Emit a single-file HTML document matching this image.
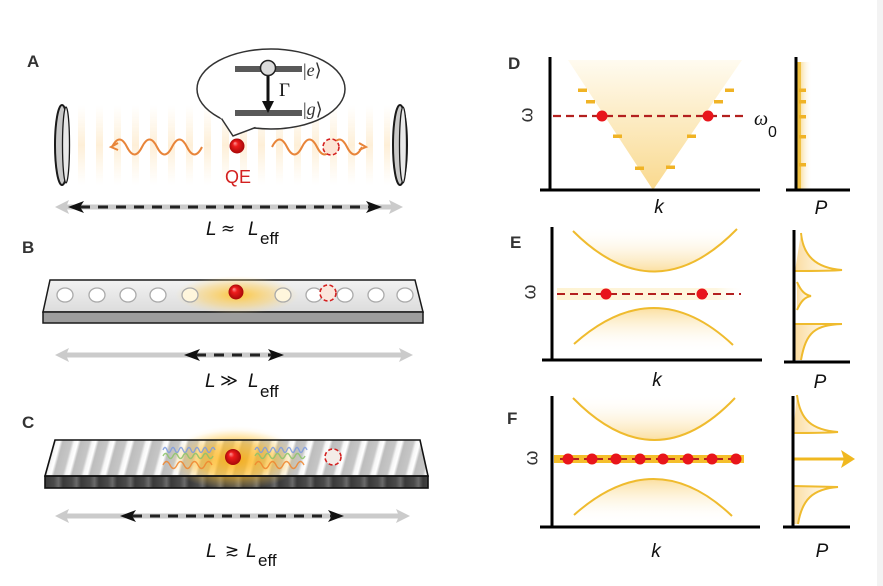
<!DOCTYPE html>
<html><head><meta charset="utf-8"><style>
html,body{margin:0;padding:0;background:#fff;}
svg{display:block;}
.lbl{font-family:"Liberation Sans",sans-serif;font-weight:bold;font-size:17px;fill:#333;}
.it{font-family:"Liberation Sans",sans-serif;font-style:italic;font-size:19px;fill:#111;}
.rg{font-family:"Liberation Sans","DejaVu Sans",sans-serif;font-size:17px;fill:#111;}
.sym{font-family:"DejaVu Sans",sans-serif;font-size:17px;fill:#111;}
.om{font-family:"Liberation Sans","DejaVu Sans",sans-serif;font-size:19px;fill:#333;}
</style></head><body>
<svg width="883" height="586" viewBox="0 0 883 586" xmlns="http://www.w3.org/2000/svg">
<defs>
  <radialGradient id="ball" cx="0.5" cy="0.5" r="0.5" fx="0.35" fy="0.3">
    <stop offset="0" stop-color="#ff9a9a"/><stop offset="0.35" stop-color="#ee1c1c"/><stop offset="1" stop-color="#a80808"/>
  </radialGradient>
  <linearGradient id="vglow" x1="0" y1="0" x2="0" y2="1">
    <stop offset="0" stop-color="#fde2b4" stop-opacity="0"/><stop offset="0.5" stop-color="#fcdca8" stop-opacity="0.45"/><stop offset="1" stop-color="#fde2b4" stop-opacity="0"/>
  </linearGradient>
  <pattern id="aStripes" x="78" y="105" width="18" height="80" patternUnits="userSpaceOnUse">
    <rect x="0" y="0" width="7" height="80" fill="url(#vglow)"/>
  </pattern>
  <radialGradient id="bglow" cx="0.5" cy="0.5" r="0.5">
    <stop offset="0" stop-color="#ffc22a" stop-opacity="0.9"/><stop offset="0.6" stop-color="#ffd060" stop-opacity="0.45"/><stop offset="1" stop-color="#ffe090" stop-opacity="0"/>
  </radialGradient>
  <radialGradient id="cglow" cx="0.5" cy="0.5" r="0.5">
    <stop offset="0" stop-color="#ffaa00" stop-opacity="1"/><stop offset="0.55" stop-color="#ffbb20" stop-opacity="0.7"/><stop offset="1" stop-color="#ffd060" stop-opacity="0"/>
  </radialGradient>
  <linearGradient id="bface" x1="0" y1="0" x2="0" y2="1">
    <stop offset="0" stop-color="#f2f2f2"/><stop offset="1" stop-color="#dcdcdc"/>
  </linearGradient>
  <linearGradient id="sg" x1="0" y1="0" x2="1" y2="0">
    <stop offset="0" stop-color="#bdbdbd"/><stop offset="0.5" stop-color="#c6c6c6"/><stop offset="0.65" stop-color="#f6f6f6"/><stop offset="0.85" stop-color="#ffffff"/><stop offset="1" stop-color="#c2c2c2"/>
  </linearGradient>
  <pattern id="cStripes" x="55" y="0" width="18" height="100" patternUnits="userSpaceOnUse" patternTransform="skewX(-15)">
    <rect x="0" y="0" width="18" height="100" fill="url(#sg)"/>
  </pattern>
  <linearGradient id="sg2" x1="0" y1="0" x2="1" y2="0">
    <stop offset="0" stop-color="#3a3a3a"/><stop offset="0.5" stop-color="#4a4a4a"/><stop offset="0.75" stop-color="#6a6a6a"/><stop offset="1" stop-color="#3a3a3a"/>
  </linearGradient>
  <pattern id="cSide" x="45" y="0" width="18" height="100" patternUnits="userSpaceOnUse">
    <rect x="0" y="0" width="18" height="100" fill="url(#sg2)"/>
  </pattern>
  <linearGradient id="cone" x1="0" y1="0" x2="0" y2="1">
    <stop offset="0" stop-color="#fffbf0"/><stop offset="1" stop-color="#f9d98e"/>
  </linearGradient>
  <linearGradient id="upFill" x1="0" y1="0" x2="0" y2="1">
    <stop offset="0" stop-color="#fff" stop-opacity="0"/><stop offset="1" stop-color="#fbdfa0"/>
  </linearGradient>
  <linearGradient id="dnFill" x1="0" y1="0" x2="0" y2="1">
    <stop offset="0" stop-color="#fbdfa0"/><stop offset="1" stop-color="#fff" stop-opacity="0"/>
  </linearGradient>
  <linearGradient id="pFill" x1="0" y1="0" x2="1" y2="0">
    <stop offset="0" stop-color="#fbdca0"/><stop offset="1" stop-color="#fff4dc" stop-opacity="0.3"/>
  </linearGradient>
  <linearGradient id="pBar" x1="0" y1="0" x2="1" y2="0">
    <stop offset="0" stop-color="#f7d889"/><stop offset="1" stop-color="#fff" stop-opacity="0"/>
  </linearGradient>
  <linearGradient id="eLine" x1="0" y1="0" x2="1" y2="0">
    <stop offset="0" stop-color="#fdeec0" stop-opacity="0.7"/><stop offset="0.85" stop-color="#fdeec0" stop-opacity="0.5"/><stop offset="1" stop-color="#fff" stop-opacity="0"/>
  </linearGradient>
</defs>

<rect x="0" y="0" width="883" height="586" fill="#fff"/>
<rect x="877" y="0" width="6" height="586" fill="#f3f3f3"/>

<!-- ============ PANEL A ============ -->
<text class="lbl" x="27" y="67">A</text>
<rect x="72" y="105" width="318" height="80" fill="url(#aStripes)"/>
<!-- mirrors -->
<ellipse cx="62" cy="145" rx="7" ry="40" fill="#c9c9c9" stroke="#1a1a1a" stroke-width="2"/>
<ellipse cx="66" cy="145" rx="3.5" ry="38" fill="#e9e9e9" stroke="#1a1a1a" stroke-width="1.3"/>
<ellipse cx="400" cy="145" rx="7" ry="40" fill="#c9c9c9" stroke="#1a1a1a" stroke-width="2"/>
<ellipse cx="403" cy="145" rx="3.5" ry="38" fill="#e9e9e9" stroke="#1a1a1a" stroke-width="1.3"/>
<!-- waves -->
<path d="M112 147 q7.5 -15 15 0 t15 0 t15 0 t15 0 t15 0 t15 0" fill="none" stroke="#e8853a" stroke-width="2"/>
<path d="M118 143 L111 147 L118 150" fill="none" stroke="#e8853a" stroke-width="2"/>
<path d="M272 147 q7.5 -15 15 0 t15 0 t15 0 t15 0 t15 0 t15 0" fill="none" stroke="#e8853a" stroke-width="2"/>
<path d="M359 143 L366 147 L359 150" fill="none" stroke="#e8853a" stroke-width="2"/>
<circle cx="331" cy="147" r="8" fill="#fde3d4" stroke="#d42020" stroke-width="1.6" stroke-dasharray="4,2.5"/>
<!-- QE -->
<circle cx="237" cy="146" r="7.5" fill="url(#ball)"/>
<text x="238" y="183" text-anchor="middle" font-family="Liberation Sans, sans-serif" font-size="18" fill="#d3201f">QE</text>
<!-- bubble -->
<ellipse cx="271" cy="89" rx="74" ry="40" fill="#fff" stroke="#333" stroke-width="1.5"/>
<polygon points="220,117 233,136 257,126" fill="#fff"/>
<path d="M221.5 118.5 L233 136 L255.5 127.5" fill="none" stroke="#333" stroke-width="1.5"/>
<rect x="235" y="66" width="67" height="6" fill="#595959"/>
<rect x="235" y="110" width="67" height="6" fill="#595959"/>
<line x1="268" y1="75" x2="268" y2="104" stroke="#111" stroke-width="3"/>
<path d="M262 101 L268 113 L274 101 Z" fill="#111"/>
<circle cx="268" cy="68" r="7.5" fill="#dcdcdc" stroke="#222" stroke-width="1.5"/>
<text x="279" y="96" font-family="Liberation Serif, serif" font-size="19" fill="#111">Γ</text>
<text x="303" y="76" font-family="Liberation Serif, DejaVu Serif, serif" font-size="18" fill="#333">|<tspan font-style="italic">e</tspan>⟩</text>
<text x="303" y="115" font-family="Liberation Serif, DejaVu Serif, serif" font-size="18" fill="#333">|<tspan font-style="italic">g</tspan>⟩</text>
<!-- arrows A -->
<line x1="60" y1="207" x2="398" y2="207" stroke="#cbcbcb" stroke-width="5"/>
<path d="M55 207 L69 200 L66 207 L69 214 Z" fill="#cbcbcb"/>
<path d="M403 207 L389 200 L392 207 L389 214 Z" fill="#cbcbcb"/>
<line x1="80" y1="207" x2="372" y2="207" stroke="#222" stroke-width="3" stroke-dasharray="10,8"/>
<path d="M68 207 L84 201 L80 207 L84 213 Z" fill="#111"/>
<path d="M382 207 L366 201 L370 207 L366 213 Z" fill="#111"/>
<text class="it" x="206" y="235">L</text>
<text class="sym" x="228" y="234" text-anchor="middle">≈</text>
<text class="it" x="248" y="235">L</text>
<text class="rg" x="260" y="244">eff</text>

<!-- ============ PANEL B ============ -->
<text class="lbl" x="22" y="253">B</text>
<polygon points="50,280 415,280 423,312 43,312" fill="url(#bface)" stroke="#1a1a1a" stroke-width="1.5"/>
<rect x="43" y="312" width="380" height="11" fill="#9d9d9d" stroke="#1a1a1a" stroke-width="1.5"/>
<ellipse cx="237" cy="295" rx="62" ry="19" fill="url(#bglow)"/>
<g fill="#fff" stroke="#aaa" stroke-width="1.3">
  <ellipse cx="65" cy="295" rx="8" ry="7"/>
  <ellipse cx="97" cy="295" rx="8" ry="7"/>
  <ellipse cx="128" cy="295" rx="8" ry="7"/>
  <ellipse cx="158" cy="295" rx="8" ry="7"/>
  <ellipse cx="190" cy="295" rx="8" ry="7" fill="#fff6dc"/>
  <ellipse cx="283" cy="295" rx="8" ry="7" fill="#fff6dc"/>
  <ellipse cx="314" cy="295" rx="8" ry="7"/>
  <ellipse cx="345" cy="295" rx="8" ry="7"/>
  <ellipse cx="376" cy="295" rx="8" ry="7"/>
  <ellipse cx="405" cy="295" rx="8" ry="7"/>
</g>
<circle cx="328" cy="293" r="8" fill="#fbe6dc" stroke="#d42020" stroke-width="1.6" stroke-dasharray="4,2.5"/>
<circle cx="236" cy="292" r="7.5" fill="url(#ball)"/>
<!-- arrows B -->
<line x1="60" y1="355" x2="408" y2="355" stroke="#cbcbcb" stroke-width="5"/>
<path d="M55 355 L69 348 L66 355 L69 362 Z" fill="#cbcbcb"/>
<path d="M413 355 L399 348 L402 355 L399 362 Z" fill="#cbcbcb"/>
<line x1="196" y1="355" x2="272" y2="355" stroke="#222" stroke-width="3" stroke-dasharray="10,8"/>
<path d="M184 355 L200 349 L196 355 L200 361 Z" fill="#111"/>
<path d="M284 355 L268 349 L272 355 L268 361 Z" fill="#111"/>
<text class="it" x="205" y="387">L</text>
<text class="sym" x="229" y="386" text-anchor="middle">≫</text>
<text class="it" x="248" y="387">L</text>
<text class="rg" x="260" y="397">eff</text>

<!-- ============ PANEL C ============ -->
<text class="lbl" x="22" y="428">C</text>
<ellipse cx="235" cy="452" rx="60" ry="26" fill="url(#cglow)" opacity="0.3"/>
<polygon points="55,440 420,440 428,476 45,476" fill="url(#cStripes)"/>
<rect x="45" y="476" width="383" height="12" fill="url(#cSide)"/>
<ellipse cx="235" cy="460" rx="66" ry="30" fill="url(#cglow)" opacity="0.85"/>
<polygon points="55,440 420,440 428,476 45,476" fill="none" stroke="#111" stroke-width="1.6"/>
<rect x="45" y="476" width="383" height="12" fill="none" stroke="#111" stroke-width="1.6"/>
<g fill="none" stroke-width="1.4" opacity="0.85">
  <path d="M163 450 q2 -5 4 0 t4 0 t4 0 t4 0 t4 0 t4 0 t4 0 t4 0 t4 0 t4 0 t4 0 t4 0 t4 0" stroke="#7d9be0"/>
  <path d="M163 456 q2.5 -5 5 0 t5 0 t5 0 t5 0 t5 0 t5 0 t5 0 t5 0 t5 0 t5 0" stroke="#8cc46a"/>
  <path d="M163 465 q3.5 -7 7 0 t7 0 t7 0 t7 0 t7 0 t7 0 t7 0" stroke="#f0862e"/>
  <path d="M255 450 q2 -5 4 0 t4 0 t4 0 t4 0 t4 0 t4 0 t4 0 t4 0 t4 0 t4 0 t4 0 t4 0 t4 0" stroke="#7d9be0"/>
  <path d="M255 456 q2.5 -5 5 0 t5 0 t5 0 t5 0 t5 0 t5 0 t5 0 t5 0 t5 0 t5 0" stroke="#8cc46a"/>
  <path d="M255 465 q3.5 -7 7 0 t7 0 t7 0 t7 0 t7 0 t7 0 t7 0" stroke="#f0862e"/>
</g>
<circle cx="233" cy="457" r="8" fill="url(#ball)"/>
<circle cx="333" cy="457" r="8" fill="#f4ece8" stroke="#d42020" stroke-width="1.6" stroke-dasharray="4,2.5"/>
<!-- arrows C -->
<line x1="60" y1="516" x2="405" y2="516" stroke="#cbcbcb" stroke-width="5"/>
<path d="M55 516 L69 509 L66 516 L69 523 Z" fill="#cbcbcb"/>
<path d="M410 516 L396 509 L399 516 L396 523 Z" fill="#cbcbcb"/>
<line x1="132" y1="516" x2="332" y2="516" stroke="#222" stroke-width="3" stroke-dasharray="10,8"/>
<path d="M120 516 L136 510 L132 516 L136 522 Z" fill="#111"/>
<path d="M344 516 L328 510 L332 516 L328 522 Z" fill="#111"/>
<text class="it" x="206" y="557">L</text>
<text class="sym" x="232" y="556" text-anchor="middle">≳</text>
<text class="it" x="246" y="557">L</text>
<text class="rg" x="258" y="566">eff</text>

<!-- ============ PANEL D ============ -->
<text class="lbl" x="508" y="69">D</text>
<polygon points="568,60 742,60 653,190" fill="url(#cone)"/>
<g fill="#f0b325">
  <rect x="578" y="88.5" width="9" height="3.5"/>
  <rect x="586" y="100" width="9" height="3.5"/>
  <rect x="613" y="134.5" width="9" height="3.5"/>
  <rect x="635" y="166.5" width="9" height="3.5"/>
  <rect x="666" y="165.5" width="9" height="3.5"/>
  <rect x="687" y="134.5" width="9" height="3.5"/>
  <rect x="714" y="100" width="9" height="3.5"/>
  <rect x="725" y="88.5" width="9" height="3.5"/>
</g>
<line x1="553" y1="116" x2="748" y2="116" stroke="#b3201f" stroke-width="2.2" stroke-dasharray="8,5"/>
<circle cx="602" cy="116" r="5.5" fill="#e8151b"/>
<circle cx="708" cy="116" r="5.5" fill="#e8151b"/>
<line x1="550" y1="57" x2="550" y2="191" stroke="#000" stroke-width="3"/>
<line x1="540" y1="190" x2="760" y2="190" stroke="#000" stroke-width="3"/>
<text class="om" x="527" y="115" transform="rotate(-90 527 115)" text-anchor="middle" dominant-baseline="central">ω</text>
<text x="754" y="125" font-family="Liberation Serif, serif" font-style="italic" font-size="20" fill="#111">ω</text>
<text x="768" y="137" font-family="Liberation Sans, sans-serif" font-size="16" fill="#111">0</text>
<text class="it" x="659" y="213" text-anchor="middle">k</text>
<!-- P D -->
<rect x="799" y="62" width="13" height="127" fill="url(#pBar)"/>
<rect x="797" y="62" width="4" height="127" fill="#f0c040"/>
<g fill="#f0b325">
  <rect x="799" y="88.5" width="7" height="3.5"/>
  <rect x="799" y="100" width="7" height="3.5"/>
  <rect x="799" y="115" width="7" height="3.5"/>
  <rect x="799" y="135" width="7" height="3.5"/>
  <rect x="799" y="163" width="7" height="3.5"/>
</g>
<line x1="796" y1="57" x2="796" y2="191" stroke="#000" stroke-width="3"/>
<line x1="786" y1="190" x2="850" y2="190" stroke="#000" stroke-width="3"/>
<text class="it" x="821" y="214" text-anchor="middle">P</text>

<!-- ============ PANEL E ============ -->
<text class="lbl" x="510" y="248">E</text>
<path d="M573 231 Q655 313 737 229 L737 226 L573 226 Z" fill="url(#upFill)"/>
<path d="M574 344 Q655 271.5 733 345 L733 352 L574 352 Z" fill="url(#dnFill)"/>
<path d="M573 231 Q655 313 737 229" fill="none" stroke="#efbb2e" stroke-width="2"/>
<path d="M574 344 Q655 271.5 733 345" fill="none" stroke="#efbb2e" stroke-width="2"/>
<rect x="557" y="288" width="188" height="12" fill="url(#eLine)"/>
<line x1="557" y1="294" x2="741" y2="294" stroke="#b3201f" stroke-width="2" stroke-dasharray="8,5"/>
<circle cx="606" cy="294" r="5.5" fill="#e8151b"/>
<circle cx="702" cy="294" r="5.5" fill="#e8151b"/>
<line x1="552" y1="227" x2="552" y2="361" stroke="#000" stroke-width="3"/>
<line x1="542" y1="360" x2="762" y2="360" stroke="#000" stroke-width="3"/>
<text class="om" x="530" y="292" transform="rotate(-90 530 292)" text-anchor="middle" dominant-baseline="central">ω</text>
<text class="it" x="657" y="386" text-anchor="middle">k</text>
<!-- P E -->
<path d="M801 233 C803 255 815 268 842 270 L842 271 L795 271 Z" fill="url(#pFill)"/>
<path d="M795 324 L842 324 C815 325 806 332 801 360 L795 360 Z" fill="url(#pFill)"/>
<path d="M797 282 C801 291 805 295 811 296 C805 297 801 301 797 310 Z" fill="url(#pFill)"/>
<g fill="none" stroke="#efbb2e" stroke-width="2">
  <path d="M801 233 C803 255 815 268 842 270 C830 271 812 271 795 271"/>
  <path d="M797 282 C801 291 805 295 811 296 C805 297 801 301 797 310"/>
  <path d="M795 324 L842 324 C815 325 806 332 801 360"/>
</g>
<line x1="794" y1="230" x2="794" y2="363" stroke="#000" stroke-width="3"/>
<line x1="784" y1="362" x2="850" y2="362" stroke="#000" stroke-width="3"/>
<text class="it" x="820" y="388" text-anchor="middle">P</text>

<!-- ============ PANEL F ============ -->
<text class="lbl" x="507" y="424">F</text>
<path d="M573 398 Q655 482 735 398 L735 394 L573 394 Z" fill="url(#upFill)"/>
<path d="M574 515 Q655 442.5 732 516 L732 523 L574 523 Z" fill="url(#dnFill)"/>
<path d="M573 398 Q655 482 735 398" fill="none" stroke="#efbb2e" stroke-width="2"/>
<path d="M574 515 Q655 442.5 732 516" fill="none" stroke="#efbb2e" stroke-width="2"/>
<rect x="554" y="455" width="190" height="8" fill="#f5bf2c"/>
<line x1="560" y1="459" x2="740" y2="459" stroke="#b3201f" stroke-width="2" stroke-dasharray="7,5"/>
<g fill="#e8151b">
  <circle cx="568" cy="459" r="5.5"/><circle cx="592" cy="459" r="5.5"/>
  <circle cx="616" cy="459" r="5.5"/><circle cx="640" cy="459" r="5.5"/>
  <circle cx="663" cy="459" r="5.5"/><circle cx="688" cy="459" r="5.5"/>
  <circle cx="712" cy="459" r="5.5"/><circle cx="736" cy="459" r="5.5"/>
</g>
<line x1="552" y1="396" x2="552" y2="528" stroke="#000" stroke-width="3"/>
<line x1="540" y1="527" x2="760" y2="527" stroke="#000" stroke-width="3"/>
<text class="om" x="532" y="458" transform="rotate(-90 532 458)" text-anchor="middle" dominant-baseline="central">ω</text>
<text class="it" x="656" y="557" text-anchor="middle">k</text>
<!-- P F -->
<path d="M797 395 C800 420 812 430 838 432 L838 433 L793 433 Z" fill="url(#pFill)"/>
<path d="M793 486 L838 487 C812 489 802 500 798 524 L793 524 Z" fill="url(#pFill)"/>
<g fill="none" stroke="#efbb2e" stroke-width="2">
  <path d="M797 395 C800 420 812 430 838 432 C825 433 810 433 793 433"/>
  <path d="M793 486 L838 487 C812 489 802 500 798 524"/>
</g>
<line x1="793" y1="459" x2="850" y2="459" stroke="#f0b820" stroke-width="3"/>
<path d="M855 459 L841 450 L844 459 L841 468 Z" fill="#f0b820"/>
<line x1="793" y1="396" x2="793" y2="528" stroke="#000" stroke-width="3"/>
<line x1="783" y1="527" x2="850" y2="527" stroke="#000" stroke-width="3"/>
<text class="it" x="822" y="557" text-anchor="middle">P</text>
</svg>
</body></html>
